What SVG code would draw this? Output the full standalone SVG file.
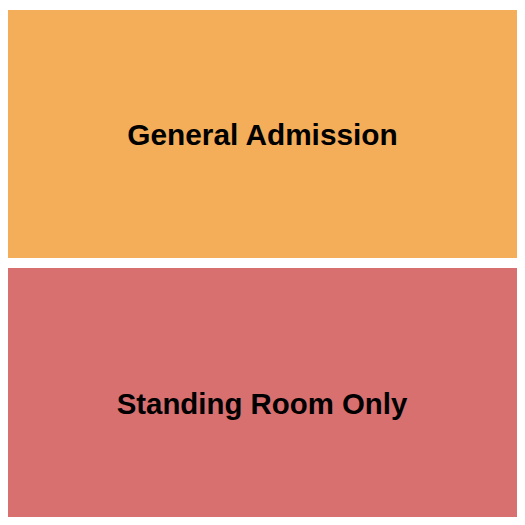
<svg xmlns="http://www.w3.org/2000/svg" width="525" height="525" viewBox="0 0 525 525">
<style>
.lbl{font-family:"Liberation Sans",Arial,sans-serif;font-weight:bold;font-size:29.6px;fill:#000;text-anchor:middle}
</style>
<rect width="525" height="525" fill="#fff"/>
<g id="general-admission">
<rect x="8" y="10" width="509" height="248" fill="#F4AE5A"/>
<text class="lbl" x="262.5" y="145" style="font-size:29.8px">General Admission</text>
</g>
<g id="standing-room-only">
<rect x="8" y="268" width="509" height="249" fill="#D97070"/>
<text class="lbl" x="262" y="413.5" style="font-size:29.4px">Standing Room Only</text>
</g>
<g id="connectors"></g>
</svg>
